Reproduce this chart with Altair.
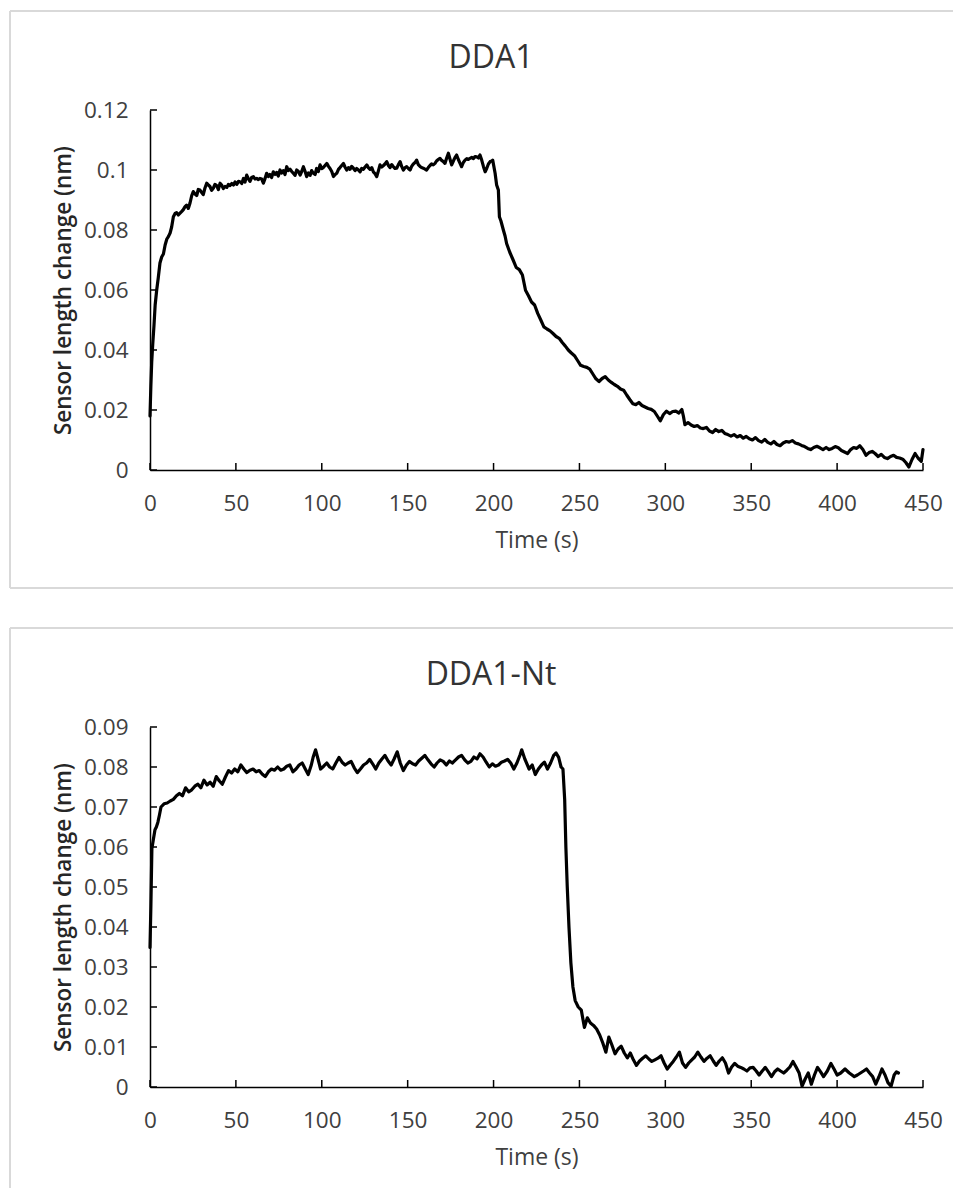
import altair as alt
import pandas as pd

# ---------------- data ----------------
# DDA1
t1 = [0, 0.5, 1.0, 1.6, 2.3, 3.0, 3.9, 4.8, 5.8, 6.8, 7.8, 8.8, 9.8, 10.7, 11.7, 12.6, 13.6, 14.6, 15.5, 16.5,
      17.5, 18.5, 19.4, 20.4, 21.3, 22.3, 23.3, 24.3, 25.2, 26.2, 27.2, 28.1, 29.1, 30.1, 31.0, 32.0, 33.0, 34.0,
      34.9, 35.9, 36.9, 37.8, 38.8, 39.8, 40.8, 41.7, 42.7, 43.7, 44.7, 45.6, 46.6, 47.6, 48.6, 49.5, 50.5, 51.5,
      52.4, 53.4, 54.4, 55.3, 56.3, 57.3, 58.2, 59.2, 60.2, 61.1, 62.1, 63.1, 64.0, 65.0, 66.0, 67.0, 67.9, 68.9,
      69.8, 70.8, 71.8, 72.8, 73.7, 74.7, 75.7, 76.6, 77.6, 78.6, 79.6, 80.5, 81.5, 82.5, 83.5, 84.4, 85.4, 86.4,
      87.4, 88.3, 89.3, 90.3, 91.2, 92.2, 93.2, 94.1, 95.1, 96.1, 97.0, 98.0, 99.0, 100.0, 100.9, 101.9, 102.9,
      103.9, 104.8, 105.8, 106.8, 107.8, 108.7, 109.7, 110.6, 111.6, 112.6, 113.5, 114.5, 115.5, 116.4, 117.4,
      118.4, 119.4, 120.3, 121.3, 122.3, 123.2, 124.2, 125.2, 126.2, 127.1, 128.1, 129.1, 130.0, 131.0, 132.0,
      133.0, 133.9, 134.9, 135.9, 136.8, 137.8, 138.8, 139.7, 140.7, 141.7, 142.6, 143.6, 144.6, 145.6, 146.5,
      147.5, 148.5, 149.4, 150.4, 151.4, 152.3, 153.3, 154.3, 155.2, 156.2, 157.2, 158.1, 159.1, 160.1, 161.0,
      162.0, 163.0, 163.9, 164.9, 165.9, 166.8, 167.8, 168.8, 169.8, 170.8, 171.7, 172.7, 173.7, 174.7, 175.6,
      176.6, 177.6, 178.5, 179.5, 180.5, 181.4, 182.4, 183.4, 184.4, 185.3, 186.3, 187.3, 188.3, 189.2, 190.2,
      191.2, 192.1, 193.1, 194.1, 195.1, 196.0, 197.0, 198.0, 199.0, 199.5, 200.9, 201.8, 202.8, 203.4, 204.3,
      205.7, 206.7, 207.6, 209.5, 211.4, 213.2, 215.0, 216.8, 218.6, 220.4, 222.1, 223.9, 225.7, 227.5, 229.3,
      231.1, 232.9, 234.6, 236.4, 238.2, 240.0, 241.8, 243.5, 245.3, 247.1, 248.9, 250.7, 252.5, 254.3, 256.0,
      257.8, 259.6, 261.4, 263.2, 265.0, 266.8, 268.6, 270.3, 272.1, 273.9, 275.7, 277.5, 279.3, 281.1, 282.8,
      284.6, 286.4, 288.2, 290.0, 291.8, 293.6, 295.3, 297.1, 298.9, 300.7, 302.5, 304.3, 306.1, 307.9, 309.6,
      310.5, 311.4, 313.2, 315.0, 316.8, 318.6, 320.4, 322.1, 323.9, 325.7, 327.5, 329.3, 331.1, 332.9, 334.6,
      336.4, 338.2, 340.0, 341.8, 343.6, 345.4, 347.1, 348.9, 350.7, 352.5, 354.3, 356.1, 357.9, 359.6, 361.4,
      363.2, 365.0, 366.8, 368.6, 370.4, 372.1, 373.9, 375.7, 377.5, 379.3, 381.1, 382.9, 384.6, 386.4, 388.2,
      390.0, 391.8, 393.6, 395.4, 397.1, 398.9, 400.7, 402.5, 404.3, 406.1, 407.9, 409.6, 411.4, 413.2, 415.0,
      416.8, 418.6, 420.4, 422.1, 423.9, 425.7, 427.5, 429.3, 431.1, 432.9, 434.6, 436.4, 438.2, 440.0, 441.8,
      443.6, 445.4, 447.1, 449.0, 450.0]
v1 = [0.018, 0.028, 0.036, 0.042, 0.048, 0.055, 0.060, 0.064, 0.069, 0.071, 0.072, 0.075, 0.077, 0.0778, 0.079,
      0.081, 0.0844, 0.0855, 0.0858, 0.085, 0.0856, 0.0862, 0.0868, 0.0878, 0.0883, 0.0872, 0.089, 0.0915, 0.0928,
      0.092, 0.0915, 0.0935, 0.0933, 0.0925, 0.0918, 0.094, 0.0956, 0.095, 0.0945, 0.0932, 0.094, 0.0952, 0.0948,
      0.0935, 0.0956, 0.095, 0.0938, 0.0945, 0.0942, 0.0952, 0.0948, 0.0955, 0.095, 0.096, 0.0952, 0.0962, 0.0961,
      0.0955, 0.0972, 0.096, 0.0983, 0.097, 0.0962, 0.0975, 0.0978, 0.097, 0.0972, 0.0968, 0.0972, 0.097, 0.0956,
      0.0972, 0.0989, 0.0978, 0.0985, 0.0975, 0.0994, 0.0985, 0.0992, 0.098, 0.1, 0.099, 0.0998, 0.0985, 0.1011,
      0.0998, 0.1003, 0.0995, 0.0989, 0.0982, 0.1, 0.0995, 0.0983, 0.0995, 0.1011, 0.0995, 0.0978, 0.099, 0.0982,
      0.0998, 0.0989, 0.0985, 0.1005, 0.0995, 0.1017, 0.1005, 0.1008, 0.1015, 0.1022, 0.1012, 0.1005, 0.0995,
      0.0978, 0.0985, 0.0989, 0.1002, 0.1008, 0.1015, 0.1022, 0.101, 0.1, 0.1008, 0.1002, 0.1012, 0.1006, 0.0998,
      0.1005, 0.1, 0.0994, 0.1005, 0.1002, 0.101, 0.1017, 0.1008, 0.1002, 0.1008, 0.0994, 0.0988, 0.0978, 0.0998,
      0.1017, 0.101, 0.1015, 0.102, 0.1028, 0.1015, 0.1008, 0.1018, 0.1011, 0.1005, 0.1006, 0.1018, 0.1028, 0.1012,
      0.1, 0.1008, 0.1011, 0.1005, 0.1, 0.1012, 0.102, 0.1025, 0.1033, 0.1018, 0.1012, 0.1008, 0.1006, 0.1003, 0.1,
      0.1008, 0.1015, 0.102, 0.1017, 0.1022, 0.103, 0.1035, 0.1039, 0.1032, 0.1028, 0.1022, 0.104, 0.1056, 0.1035,
      0.1017, 0.103, 0.1042, 0.105, 0.1035, 0.1022, 0.1011, 0.1025, 0.1033, 0.1038, 0.1035, 0.1039, 0.1042, 0.1038,
      0.1045, 0.1044, 0.104, 0.105, 0.1033, 0.1012, 0.0994, 0.1005, 0.102, 0.1028, 0.103, 0.1033, 0.0989, 0.095,
      0.0933, 0.0844, 0.083, 0.080, 0.078, 0.0755, 0.0725, 0.070, 0.0675, 0.0668, 0.065, 0.0599, 0.058, 0.056,
      0.055, 0.0522, 0.050, 0.0477, 0.047, 0.0464, 0.0455, 0.0445, 0.0439, 0.0425, 0.0413, 0.040, 0.039, 0.0381,
      0.0365, 0.0349, 0.0345, 0.0342, 0.0336, 0.032, 0.0304, 0.0295, 0.0305, 0.0311, 0.030, 0.0292, 0.0285, 0.0279,
      0.027, 0.0266, 0.025, 0.0235, 0.0221, 0.0218, 0.0225, 0.0215, 0.021, 0.0205, 0.0202, 0.0195, 0.018, 0.0164,
      0.0185, 0.0196, 0.0188, 0.0195, 0.0196, 0.019, 0.0202, 0.018, 0.0151, 0.0158, 0.015, 0.0145, 0.0148, 0.014,
      0.0138, 0.0142, 0.013, 0.0125, 0.0135, 0.0128, 0.0132, 0.0122, 0.0118, 0.0113, 0.0118, 0.011, 0.0115, 0.0106,
      0.0112, 0.0104, 0.01, 0.0108, 0.0098, 0.0093, 0.0102, 0.0092, 0.0087, 0.0095, 0.0085, 0.0081, 0.009, 0.0095,
      0.0093, 0.0098, 0.009, 0.0087, 0.0082, 0.0078, 0.0072, 0.0068, 0.0075, 0.0079, 0.0074, 0.0068, 0.0075, 0.0068,
      0.0072, 0.0078, 0.0074, 0.0065, 0.006, 0.0055, 0.0068, 0.0075, 0.0072, 0.0081, 0.0068, 0.0049, 0.0058, 0.0062,
      0.0055, 0.0045, 0.0052, 0.0042, 0.0038, 0.0045, 0.0049, 0.0042, 0.004, 0.0036, 0.0025, 0.001, 0.0035, 0.0055,
      0.004, 0.0029, 0.0068]

# DDA1-Nt
t2 = [0, 0.5, 1.1, 2.0, 2.9, 3.7, 4.6, 5.5, 6.4, 8.2, 10.0, 11.8, 13.6, 15.4, 17.1, 18.9, 20.7, 22.5, 24.3, 26.1,
      27.9, 29.6, 31.4, 33.2, 35.0, 36.8, 38.6, 40.4, 42.1, 43.9, 45.7, 47.5, 49.3, 51.1, 52.9, 54.6, 56.4, 58.2,
      60.0, 61.8, 63.6, 65.4, 67.1, 68.9, 70.7, 72.5, 74.3, 76.1, 77.9, 79.6, 81.4, 83.2, 85.0, 86.8, 88.6, 90.4,
      92.1, 93.9, 95.0, 96.4, 97.8, 99.3, 101.1, 102.9, 104.6, 106.4, 108.2, 110.0, 111.8, 113.6, 115.4, 117.1,
      118.9, 120.7, 122.5, 124.3, 126.1, 127.9, 129.6, 131.4, 133.2, 135.0, 136.8, 138.6, 140.4, 142.1, 143.9,
      145.7, 147.5, 149.3, 151.1, 152.9, 154.6, 156.4, 158.2, 160.0, 161.8, 163.6, 165.4, 167.1, 168.9, 170.7,
      172.5, 174.3, 176.0, 177.9, 179.6, 181.4, 183.2, 185.0, 186.8, 188.6, 190.4, 192.1, 193.9, 195.7, 197.5,
      199.3, 201.1, 202.9, 204.6, 206.4, 208.2, 210.0, 211.8, 213.6, 215.4, 216.4, 218.2, 220.7, 222.5, 224.3,
      226.1, 227.9, 229.6, 231.4, 233.2, 235.0, 236.4, 237.9, 239.3, 240.4, 241.4, 242.1, 242.9, 243.9, 245.0,
      246.2, 247.5, 249.3, 251.1, 252.0, 252.9, 254.6, 256.4, 258.2, 260.0, 261.8, 263.6, 265.4, 267.1, 268.9,
      270.7, 272.5, 274.3, 276.1, 277.9, 279.6, 281.4, 283.2, 285.0, 286.8, 288.6, 290.4, 292.1, 293.9, 295.7,
      297.5, 299.3, 301.1, 302.9, 304.6, 306.4, 308.2, 310.0, 311.8, 313.6, 315.4, 317.1, 318.9, 320.7, 322.5,
      324.3, 326.1, 327.9, 329.6, 331.4, 333.2, 335.0, 336.8, 338.6, 340.4, 342.1, 343.9, 345.7, 347.5, 349.3,
      351.1, 352.9, 354.6, 356.4, 358.2, 360.0, 361.8, 363.6, 365.4, 367.1, 368.9, 370.7, 372.5, 374.3, 376.1,
      377.9, 379.6, 381.4, 383.2, 385.0, 386.8, 388.6, 390.4, 392.1, 394.3, 396.4, 398.2, 400.0, 402.1, 404.6,
      407.1, 410.0, 411.8, 413.6, 415.4, 417.1, 418.9, 420.7, 422.5, 424.3, 426.1, 427.9, 429.6, 431.4, 433.2,
      434.5, 435.7]
v2 = [0.0349, 0.045, 0.0596, 0.062, 0.0643, 0.065, 0.0662, 0.068, 0.070, 0.0708, 0.071, 0.0715, 0.0719, 0.0728,
      0.0734, 0.0728, 0.0748, 0.0738, 0.0743, 0.0752, 0.0757, 0.0748, 0.0767, 0.0755, 0.0762, 0.0752, 0.0776,
      0.0765, 0.0757, 0.0775, 0.0791, 0.0785, 0.0795, 0.0788, 0.0805, 0.0795, 0.0786, 0.0792, 0.0795, 0.0788,
      0.0791, 0.0782, 0.0776, 0.0788, 0.0795, 0.0792, 0.080, 0.0792, 0.0795, 0.0802, 0.0805, 0.0788, 0.0795,
      0.0805, 0.081, 0.0795, 0.0781, 0.0805, 0.0825, 0.0843, 0.082, 0.0795, 0.0802, 0.081, 0.080, 0.0795, 0.081,
      0.0824, 0.0812, 0.0805, 0.081, 0.0814, 0.0798, 0.0786, 0.0795, 0.0805, 0.081, 0.0819, 0.0808, 0.0795, 0.081,
      0.082, 0.0829, 0.0815, 0.0805, 0.082, 0.0838, 0.081, 0.0791, 0.0805, 0.0814, 0.0808, 0.0805, 0.0815, 0.0822,
      0.0829, 0.0818, 0.0808, 0.080, 0.081, 0.0818, 0.0814, 0.0805, 0.0815, 0.081, 0.0818, 0.0825, 0.0829, 0.0818,
      0.081, 0.0814, 0.0825, 0.082, 0.0833, 0.0825, 0.0812, 0.080, 0.0808, 0.0802, 0.0805, 0.0812, 0.0815, 0.0819,
      0.081, 0.0795, 0.081, 0.083, 0.0843, 0.082, 0.0795, 0.0805, 0.0781, 0.0795, 0.0805, 0.0812, 0.0795, 0.081,
      0.0829, 0.0835, 0.0824, 0.080, 0.0795, 0.0719, 0.060, 0.0501, 0.040, 0.0311, 0.025, 0.0216, 0.020, 0.0192,
      0.017, 0.0149, 0.0173, 0.016, 0.0154, 0.0145, 0.013, 0.011, 0.0087, 0.0125, 0.0105, 0.0083, 0.0095, 0.0102,
      0.0085, 0.0073, 0.0085, 0.0068, 0.0054, 0.0065, 0.0072, 0.0078, 0.007, 0.0064, 0.0068, 0.0072, 0.0078, 0.006,
      0.0045, 0.0055, 0.0064, 0.0075, 0.0087, 0.006, 0.0049, 0.006, 0.0068, 0.0075, 0.0087, 0.0075, 0.0064, 0.0072,
      0.0078, 0.0065, 0.0054, 0.0065, 0.0073, 0.006, 0.0035, 0.005, 0.0059, 0.0052, 0.0049, 0.0045, 0.004, 0.0048,
      0.0049, 0.004, 0.003, 0.004, 0.0049, 0.0038, 0.0026, 0.0038, 0.0045, 0.004, 0.0035, 0.0042, 0.005, 0.0064,
      0.005, 0.0035, 0.0002, 0.002, 0.0035, 0.0007, 0.003, 0.0049, 0.0038, 0.0026, 0.004, 0.0059, 0.0045, 0.003,
      0.0035, 0.0045, 0.0035, 0.0026, 0.003, 0.0035, 0.004, 0.0045, 0.0035, 0.0026, 0.0007, 0.0025, 0.0045, 0.003,
      0.0011, 0.0002, 0.003, 0.0038, 0.0035]

x_ticks = [0, 50, 100, 150, 200, 250, 300, 350, 400, 450]
y_ticks1 = [0, 0.02, 0.04, 0.06, 0.08, 0.1, 0.12]
y_ticks2 = [0, 0.01, 0.02, 0.03, 0.04, 0.05, 0.06, 0.07, 0.08, 0.09]
titles = ["DDA1", "DDA1-Nt"]
x_title = "Time (s)"
y_title = "Sensor length change (nm)"

# ---------------- styling ----------------
W, H = 773, 360
FONT = "Open Sans"
TEXT = "#404040"
BORDER = "#d9d9d9"
TICK_LEN = 7


def one():
    return pd.DataFrame({"k": [0]})


def panel(t, v, yvals, ymax, title, bottom):
    xs = alt.Scale(domain=[0, 450], nice=False, zero=False)
    ys = alt.Scale(domain=[0, ymax], nice=False, zero=False)
    xaxis = alt.Axis(
        values=x_ticks, format="d", title=x_title, grid=False, ticks=False, tickSize=0,
        domainColor="black", domainWidth=1.5, labelFont=FONT, labelFontSize=22.5,
        labelColor=TEXT, labelPadding=40, labelBaseline="alphabetic",
        labelFlush=False, labelOverlap=False,
        titleFont=FONT, titleFontSize=23, titleFontWeight="normal", titleColor=TEXT,
        titleX=W / 2, titleY=77, titleAlign="center", titleBaseline="alphabetic")
    yaxis = alt.Axis(
        values=yvals, format=".2~f", title=y_title, grid=False, ticks=False, tickSize=0,
        domainColor="black", domainWidth=1.5, labelFont=FONT, labelFontSize=22.5,
        labelColor=TEXT, labelPadding=22, labelFlush=False, labelOverlap=False,
        titleFont=FONT, titleFontSize=22.5, titleFontWeight=600, titleColor="#262626",
        titleX=-87, titleY=H / 2, titleAlign="center", titleBaseline="middle", titleAngle=270)

    df = pd.DataFrame({"t": t, "v": v})
    line = alt.Chart(df).mark_line(
        color="black", strokeWidth=3.2, strokeJoin="round", strokeCap="round"
    ).encode(
        x=alt.X("t:Q", scale=xs, axis=xaxis, title=x_title),
        y=alt.Y("v:Q", scale=ys, axis=yaxis, title=y_title),
    )

    xt = alt.Chart(pd.DataFrame({"t": x_ticks})).mark_rule(color="black", strokeWidth=1.5).encode(
        x=alt.X("t:Q", scale=xs, axis=xaxis, title=x_title), y=alt.value(H), y2=alt.value(H - TICK_LEN))
    yt = alt.Chart(pd.DataFrame({"v": yvals})).mark_rule(color="black", strokeWidth=1.5).encode(
        y=alt.Y("v:Q", scale=ys, axis=yaxis, title=y_title), x=alt.value(0), x2=alt.value(TICK_LEN))

    ttl = alt.Chart(one()).mark_text(
        font=FONT, fontSize=32, color="#333333", align="center", baseline="alphabetic"
    ).encode(x=alt.value(341), y=alt.value(-42), text=alt.value(title))

    left = -140
    right = 803
    top = -99
    bot = 478 if bottom else 461
    borders = [
        alt.Chart(one()).mark_rule(color=BORDER, strokeWidth=2).encode(
            x=alt.value(left), x2=alt.value(right), y=alt.value(top)),
        alt.Chart(one()).mark_rule(color=BORDER, strokeWidth=2).encode(
            x=alt.value(left), y=alt.value(top), y2=alt.value(bot)),
    ]
    if bottom:
        borders.append(alt.Chart(one()).mark_rule(color=BORDER, strokeWidth=2).encode(
            x=alt.value(left), x2=alt.value(right), y=alt.value(bot)))
    return alt.layer(line, xt, yt, ttl, *borders).properties(width=W, height=H)


p1 = panel(t1, v1, y_ticks1, 0.12, titles[0], True)
p2 = panel(t2, v2, y_ticks2, 0.09, titles[1], False)

chart = alt.vconcat(p1, p2, spacing=38).properties(
    padding={"left": 1, "top": 2, "right": 0, "bottom": 0},
    background="white",
).configure_view(strokeWidth=0)

chart.save("out.html", embed_options={"renderer": "svg", "actions": False})
